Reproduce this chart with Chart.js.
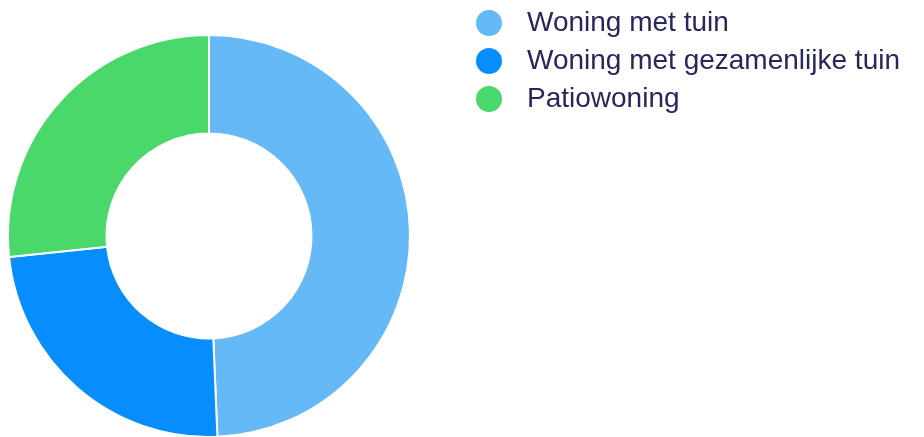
<!DOCTYPE html>
<html>
<head>
<meta charset="utf-8">
<script src="https://cdn.jsdelivr.net/npm/chart.js@4/dist/chart.umd.min.js"></script>
<style>
  html, body { margin: 0; padding: 0; background: #fff; overflow: hidden; }
  #wrap { position: relative; width: 975px; height: 472px; margin-left: -51px; }
</style>
</head>
<body>
<div id="wrap"><canvas id="woningChart"></canvas></div>
<script>
// Chart data
const labels = ['Woning met tuin', 'Woning met gezamenlijke tuin', 'Patiowoning'];
const values = [37, 18, 20];
const colors = ['#64b9f6', '#068dfe', '#4ad86a'];

// Legend marker drawn on a small canvas; dot sits left of the image centre
function legendDot(color) {
    const c = document.createElement('canvas');
    c.width = 60;
    c.height = 28;
    const g = c.getContext('2d');
    g.fillStyle = color;
    g.beginPath();
    g.arc(23, 14, 13, 0, Math.PI * 2);
    g.fill();
    return c;
}

const ctx = document.getElementById('woningChart').getContext('2d');

new Chart(ctx, {
    type: 'doughnut',
    data: {
        labels: labels,
        datasets: [{
            data: values,
            backgroundColor: colors,
            borderColor: '#ffffff',
            borderWidth: 2,
            hoverOffset: 0
        }]
    },
    options: {
        responsive: true,
        maintainAspectRatio: false,
        animation: false,
        radius: 201,
        cutout: '51%',
        layout: { padding: { left: 0, top: -1, right: 14, bottom: 0 } },
        plugins: {
            tooltip: { enabled: false },
            legend: {
                position: 'right',
                align: 'start',
                labels: {
                    usePointStyle: true,
                    pointStyleWidth: 34,
                    boxHeight: 28,
                    padding: 10,
                    color: '#27275a',
                    font: { family: 'Liberation Sans, Arial, sans-serif', size: 28 },
                    generateLabels: (chart) => {
                        const items = Chart.overrides.doughnut.plugins.legend.labels.generateLabels(chart);
                        items.forEach((it, i) => { it.pointStyle = legendDot(colors[i]); });
                        return items;
                    }
                }
            }
        }
    }
});
</script>
</body>
</html>
